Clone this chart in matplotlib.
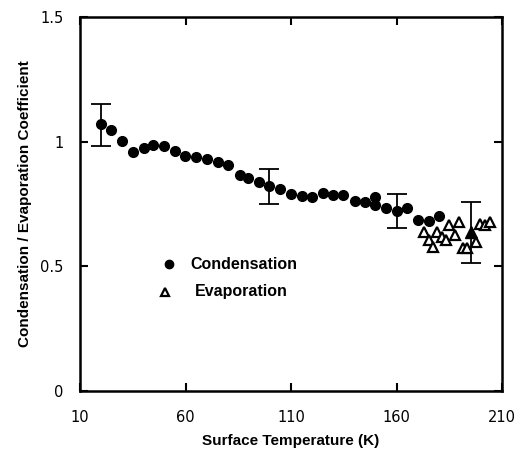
import matplotlib
matplotlib.use("Agg")
import matplotlib.pyplot as plt

# Condensation coefficient (filled circles)
cond_temp = [19.8, 24.7, 29.8, 35.3, 40.3, 44.7, 49.8, 54.9, 59.9, 64.8,
             70.0, 75.2, 80.3, 85.8, 89.8, 94.8, 99.7, 104.8, 110.0, 115.1,
             120.0, 125.3, 130.0, 134.8, 140.3, 145.0, 149.8, 149.8, 155.0,
             160.1, 165.1, 170.3, 175.5, 180.3]
cond_coef = [1.07, 1.047, 1.003, 0.960, 0.976, 0.989, 0.984, 0.963, 0.944, 0.940,
             0.929, 0.917, 0.908, 0.868, 0.854, 0.837, 0.821, 0.810, 0.789, 0.783,
             0.779, 0.793, 0.786, 0.786, 0.763, 0.759, 0.777, 0.746, 0.735,
             0.722, 0.733, 0.686, 0.683, 0.703]

# Evaporation coefficient (open triangles)
evap_temp = [173.0, 175.5, 177.4, 179.2, 181.3, 183.2, 185.0, 187.7, 189.8,
             191.4, 193.6, 197.7, 199.6, 202.0, 204.3]
evap_coef = [0.639, 0.606, 0.576, 0.639, 0.619, 0.606, 0.666, 0.626, 0.679,
             0.572, 0.572, 0.599, 0.672, 0.666, 0.679]

# points carrying error bars
err_temp = [19.8, 99.7, 160.1, 195.2]
err_coef = [1.07, 0.821, 0.722, 0.639]
err_low = [0.983, 0.750, 0.655, 0.512]
err_high = [1.151, 0.892, 0.789, 0.759]

fig = plt.figure(figsize=(5.23, 4.51), dpi=100)
ax = fig.add_axes([0.153, 0.133, 0.807, 0.829])

yerr = [[c - lo for c, lo in zip(err_coef, err_low)],
        [hi - c for c, hi in zip(err_coef, err_high)]]
ax.errorbar(err_temp, err_coef, yerr=yerr, fmt="none", ecolor="black",
            elinewidth=1.3, capsize=7, capthick=1.3, zorder=2)

ax.plot(cond_temp, cond_coef, "o", color="black", markersize=7, zorder=3)
ax.plot(evap_temp, evap_coef, "^", markerfacecolor="white",
        markeredgecolor="black", markeredgewidth=1.6, markersize=7, zorder=3)
# the one filled triangle sitting on the last error bar
ax.plot(err_temp[-1:], err_coef[-1:], "^", color="black", markersize=8, zorder=4)

# hand-made legend as in the figure
ax.plot([52], [0.508], "o", color="black", markersize=6)
ax.text(62.5, 0.508, "Condensation", fontsize=11.5, fontweight="bold",
        family="Liberation Sans", va="center")
ax.plot([50.5], [0.398], "^", markerfacecolor="white", markeredgecolor="black",
        markeredgewidth=1.6, markersize=6)
ax.text(64.5, 0.398, "Evaporation", fontsize=11.5, fontweight="bold",
        family="Liberation Sans", va="center")

ax.set_xlim(10, 210)
ax.set_ylim(0, 1.5)
ax.set_xticks([10, 60, 110, 160, 210])
ax.set_yticks([0, 0.5, 1, 1.5])
ax.set_yticklabels(["0", "0.5", "1", "1.5"])
ax.tick_params(direction="in", length=6, width=1.5, top=True, right=True,
               labelsize=10.5, pad=14)
ax.tick_params(axis="y", pad=12)
for s in ax.spines.values():
    s.set_linewidth(1.8)

ax.set_xlabel("Surface Temperature (K)", fontsize=11, fontweight="bold",
              family="Liberation Sans", labelpad=6)
ax.set_ylabel("Condensation / Evaporation Coefficient", fontsize=11,
              fontweight="bold", family="Liberation Sans", labelpad=6)

fig.savefig("out.png", dpi=100)
